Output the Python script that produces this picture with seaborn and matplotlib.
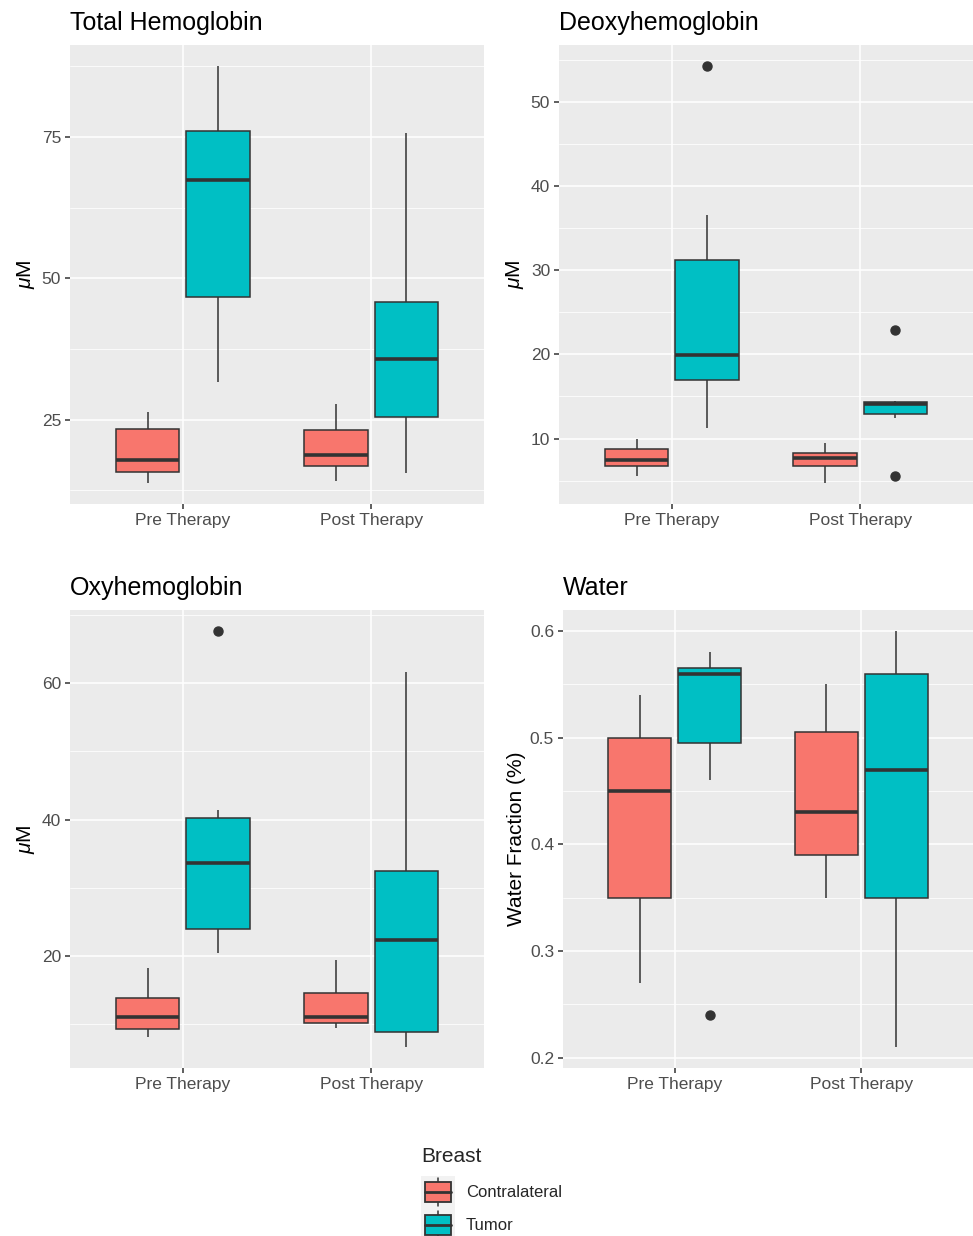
import numpy as np
import pandas as pd
import seaborn as sns
import matplotlib.pyplot as plt
from matplotlib.patches import Patch, Rectangle
from matplotlib.lines import Line2D
from matplotlib.legend_handler import HandlerBase
from matplotlib.ticker import MultipleLocator, AutoMinorLocator

times = ["Pre Therapy", "Post Therapy"]
breasts = ["Contralateral", "Tumor"]
colors = ["#F8766D", "#00BFC4"]

thb_pre_contra = [13.8, 15.0, 15.8, 16.9, 17.9, 20.5, 23.4, 24.8, 26.4]
thb_pre_tumor = [31.6, 40.2, 46.8, 58.0, 67.4, 71.5, 76.1, 81.0, 87.6]
thb_post_contra = [14.2, 15.5, 16.8, 17.7, 18.8, 21.0, 23.2, 25.1, 27.8]
thb_post_tumor = [15.6, 21.0, 25.5, 31.0, 35.8, 40.5, 45.9, 60.2, 75.7]

hhb_pre_contra = [5.5, 6.2, 6.7, 7.0, 7.4, 8.1, 8.8, 9.4, 10.0]
hhb_pre_tumor = [11.2, 14.5, 17.0, 18.6, 19.9, 25.0, 31.2, 36.6, 54.3]
hhb_post_contra = [4.7, 5.9, 6.7, 7.2, 7.7, 8.0, 8.3, 8.9, 9.5]
hhb_post_tumor = [5.6, 12.4, 12.9, 13.6, 14.1, 14.2, 14.3, 14.5, 22.9]

o2hb_pre_contra = [8.1, 8.7, 9.2, 10.1, 11.1, 12.4, 13.8, 16.0, 18.2]
o2hb_pre_tumor = [20.4, 22.0, 24.0, 29.0, 33.6, 37.5, 40.2, 41.4, 67.7]
o2hb_post_contra = [9.4, 9.9, 10.2, 10.6, 11.0, 12.8, 14.5, 17.0, 19.4]
o2hb_post_tumor = [6.6, 7.9, 8.9, 15.5, 22.3, 27.5, 32.4, 45.0, 61.6]

water_pre_contra = [0.27, 0.31, 0.35, 0.40, 0.45, 0.48, 0.50, 0.52, 0.54]
water_pre_tumor = [0.24, 0.46, 0.495, 0.53, 0.56, 0.563, 0.565, 0.57, 0.58]
water_post_contra = [0.35, 0.37, 0.39, 0.41, 0.43, 0.47, 0.505, 0.53, 0.55]
water_post_tumor = [0.21, 0.28, 0.35, 0.41, 0.47, 0.52, 0.56, 0.58, 0.60]

panel_titles = ["Total Hemoglobin", "Deoxyhemoglobin", "Oxyhemoglobin", "Water"]
panel_ylabels = ["$\\mu$M", "$\\mu$M", "$\\mu$M", "Water Fraction (%)"]
tick_steps = [25, 10, 20, 0.1]

groups = {
    "Total Hemoglobin": [thb_pre_contra, thb_pre_tumor, thb_post_contra, thb_post_tumor],
    "Deoxyhemoglobin": [hhb_pre_contra, hhb_pre_tumor, hhb_post_contra, hhb_post_tumor],
    "Oxyhemoglobin": [o2hb_pre_contra, o2hb_pre_tumor, o2hb_post_contra, o2hb_post_tumor],
    "Water": [water_pre_contra, water_pre_tumor, water_post_contra, water_post_tumor],
}

rows = []
for panel, lists in groups.items():
    keys = [(t, b) for t in times for b in breasts]
    for (t, b), vals in zip(keys, lists):
        for v in vals:
            rows.append({"panel": panel, "Time": t, "Breast": b, "value": v})
df = pd.DataFrame(rows)

# Theme (ggplot grey look)

sns.set_theme(style="darkgrid", rc={
    "axes.facecolor": "#EBEBEB",
    "figure.facecolor": "white",
    "grid.color": "white",
})
plt.rcParams["font.family"] = ["Liberation Sans", "DejaVu Sans"]
plt.rcParams["mathtext.fontset"] = "custom"
plt.rcParams["mathtext.it"] = "Liberation Sans:italic"
plt.rcParams["mathtext.rm"] = "Liberation Sans"

W, H = 973, 1236
fig = plt.figure(figsize=(W / 100, H / 100), dpi=100)

# panel boxes in pixels: x0, x1, y0, y1
boxes = [(70, 484, 45, 504), (559, 973, 45, 504),
         (70, 484, 610, 1068), (563, 973, 610, 1068)]
label_x = [37, 526, 37, 526]

dark = "#333333"

for i, title in enumerate(panel_titles):
    x0, x1, y0, y1 = boxes[i]
    ax = fig.add_axes([x0 / W, 1 - y1 / H, (x1 - x0) / W, (y1 - y0) / H])
    sub = df[df.panel == title]
    sns.boxplot(data=sub, x="Time", y="value", hue="Breast",
                order=times, hue_order=breasts, palette=colors, saturation=1,
                width=0.75, gap=0.1, linewidth=1.1, linecolor=dark,
                whis=1.5, showcaps=False, fliersize=6.5,
                medianprops=dict(linewidth=2.6, color=dark),
                flierprops=dict(marker="o", markerfacecolor=dark,
                                markeredgecolor=dark),
                legend=False, ax=ax)
    for ln in ax.lines:
        if ln.get_marker() == "o":
            ln.set_markerfacecolor(dark)
            ln.set_markeredgecolor(dark)

    ax.set_xlim(-0.6, 1.6)
    ax.margins(y=0.05)
    ax.autoscale(axis="y")
    ax.yaxis.set_major_locator(MultipleLocator(tick_steps[i]))
    ax.yaxis.set_minor_locator(AutoMinorLocator(2))
    ax.grid(True, which="major", axis="both", color="white", linewidth=1.1)
    ax.grid(True, which="minor", axis="y", color="white", linewidth=0.55)
    ax.set_axisbelow(True)
    for s in ax.spines.values():
        s.set_visible(False)
    ax.tick_params(axis="both", which="major", bottom=True, left=True,
                   length=3.4, width=1.1, color=dark, labelcolor="#4D4D4D",
                   labelsize=12.5, pad=3)
    ax.tick_params(axis="y", which="minor", length=0)

    ax.set_xlabel("")
    ax.set_ylabel(panel_ylabels[i], fontsize=15, color="black")
    ax.yaxis.set_label_coords((label_x[i] - x0) / (x1 - x0), 0.5)
    ax.set_title(title, loc="left", fontsize=18, pad=11, color="black")
    if i == 3:
        ax.yaxis.set_major_formatter(plt.FormatStrFormatter("%.1f"))


# Legend with boxplot-style keys

class BoxKey(HandlerBase):
    def create_artists(self, legend, orig_handle, xdescent, ydescent,
                       width, height, fontsize, trans):
        bg = Rectangle((-xdescent, -ydescent), width, height,
                       facecolor="#F2F2F2", edgecolor="none", transform=trans)
        bw, bh = width * 0.78, height * 0.62
        bx = -xdescent + (width - bw) / 2
        by = -ydescent + (height - bh) / 2
        cx = -xdescent + width / 2
        whisk = Line2D([cx, cx], [-ydescent + height * 0.08, -ydescent + height * 0.92],
                       color=dark, linewidth=1.1, transform=trans)
        box = Rectangle((bx, by), bw, bh, facecolor=orig_handle.get_facecolor(),
                        edgecolor=dark, linewidth=1.3, transform=trans)
        med = Line2D([bx, bx + bw], [by + bh / 2] * 2, color=dark,
                     linewidth=2.0, transform=trans)
        return [bg, whisk, box, med]


handles = [Patch(facecolor=c, label=b) for c, b in zip(colors, breasts)]
leg = fig.legend(handles=handles, labels=breasts, title="Breast",
                 loc="upper left", bbox_to_anchor=(421 / W, 1 - 1147 / H),
                 handler_map={Patch: BoxKey()}, frameon=False,
                 fontsize=12, title_fontsize=15, handlelength=2.04,
                 handleheight=2.67, labelspacing=0.0, handletextpad=0.65,
                 borderpad=0, borderaxespad=0, alignment="left")
# a bit of room between the legend title and the keys
leg._legend_box.sep = 7

fig.savefig("out.png", dpi=100)
